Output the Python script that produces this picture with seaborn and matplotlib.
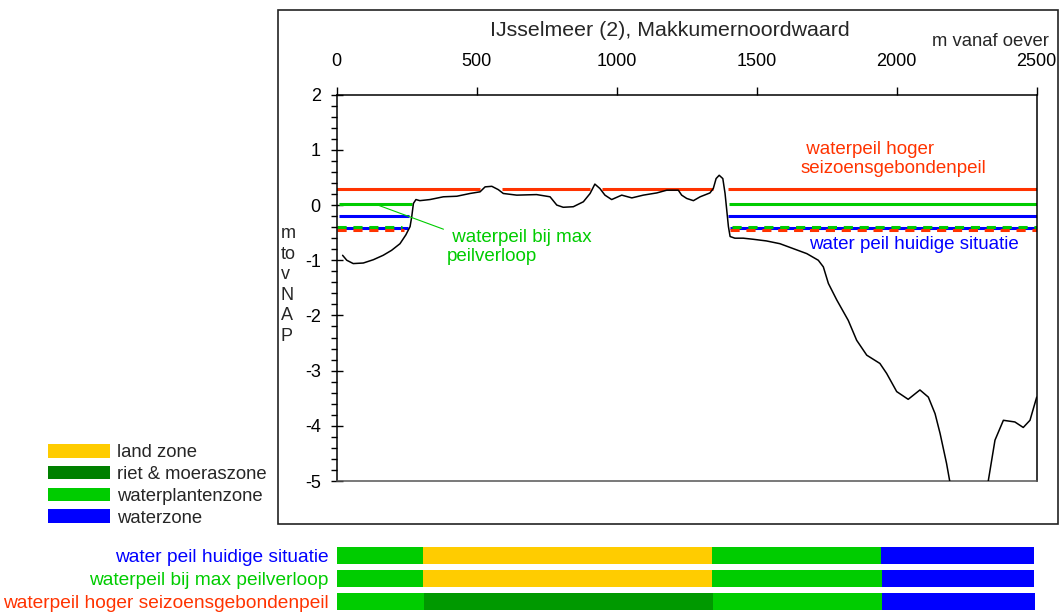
import numpy as np
import pandas as pd
import seaborn as sns
import matplotlib.pyplot as plt
from matplotlib.patches import Patch, Rectangle
from matplotlib.ticker import MultipleLocator

# Bodemprofiel (m vanaf oever, m t.o.v. NAP)
profile_x = [21, 36, 59, 95, 131, 166, 196, 226, 247, 262, 268, 274, 283, 297, 333, 381,
             429, 476, 512, 530, 554, 577, 595, 643, 714, 762, 786, 809, 845, 881, 905,
             922, 940, 958, 982, 1018, 1054, 1095, 1143, 1179, 1220, 1232, 1250, 1274,
             1298, 1333, 1345, 1355, 1366, 1379, 1387, 1393, 1399, 1405, 1422, 1452,
             1488, 1535, 1583, 1631, 1679, 1720, 1738, 1756, 1786, 1827, 1857, 1881,
             1893, 1940, 1964, 2000, 2041, 2083, 2113, 2137, 2155, 2178, 2190, 2260,
             2327, 2351, 2381, 2422, 2452, 2476, 2500]
profile_y = [-0.91, -1.0, -1.06, -1.05, -0.99, -0.91, -0.82, -0.70, -0.54, -0.39, -0.21,
             0.03, 0.10, 0.08, 0.10, 0.15, 0.16, 0.21, 0.24, 0.33, 0.34, 0.28, 0.21, 0.18,
             0.19, 0.15, 0.0, -0.04, -0.03, 0.06, 0.21, 0.38, 0.30, 0.18, 0.10, 0.18, 0.13,
             0.18, 0.22, 0.27, 0.27, 0.18, 0.12, 0.08, 0.15, 0.22, 0.30, 0.48, 0.54, 0.48,
             0.21, -0.09, -0.39, -0.57, -0.60, -0.60, -0.62, -0.65, -0.70, -0.79, -0.88,
             -1.0, -1.12, -1.42, -1.72, -2.09, -2.45, -2.63, -2.72, -2.87, -3.05, -3.38,
             -3.52, -3.35, -3.48, -3.78, -4.14, -4.68, -5.02, -5.6, -5.0, -4.26, -3.90,
             -3.93, -4.03, -3.90, -3.48]

# Waterpeilen en hun bereik langs het profiel
red_high = 0.29
red_high_segments = [(-5, 512), (589, 903), (947, 1345), (1399, 2500)]
green_high = 0.02
green_high_segments = [(9, 268), (1402, 2500)]
blue_high = -0.2
blue_high_segments = [(9, 258), (1399, 2500)]
blue_low = -0.41
blue_low_segments = [(9, 253), (1405, 2500)]
green_low = -0.40
green_low_segments = [(0, 232), (1411, 2500)]
red_low = -0.45
red_low_segments = [(0, 240), (1405, 2500)]

# Zonering per scenario
scenario_labels = ["water peil huidige situatie", "waterpeil bij max peilverloop",
                   "waterpeil hoger seizoensgebondenpeil"]
zone_edges_1 = [-8, 307, 1340, 1944, 2492]
zone_edges_2 = [-8, 307, 1342, 1946, 2492]
zone_edges_3 = [-5, 312, 1345, 1948, 2495]
zones_1 = ["waterplantenzone", "land zone", "waterplantenzone", "waterzone"]
zones_2 = ["waterplantenzone", "land zone", "waterplantenzone", "waterzone"]
zones_3 = ["waterplantenzone", "riet & moeraszone", "waterplantenzone", "waterzone"]

legend_labels = ["land zone", "riet & moeraszone", "waterplantenzone", "waterzone"]

RED = "#FF3300"
GREEN = "#00CC00"
BLUE = "#0000FF"
zone_colors = {"land zone": "#FFCC00", "riet & moeraszone": "#009900",
               "waterplantenzone": GREEN, "waterzone": BLUE}
legend_colors = ["#FFCC00", "#008000", GREEN, BLUE]
scenario_colors = [BLUE, GREEN, RED]

sns.set_style("ticks")
plt.rcParams["font.family"] = ["Liberation Sans", "DejaVu Sans"]
plt.rcParams["axes.unicode_minus"] = False

W, H = 1061, 612
fig = plt.figure(figsize=(W / 100, H / 100), dpi=100)

ax = fig.add_axes([336.7 / W, 1 - 481 / H, 700 / W, (481 - 94.7) / H])

# waterpeil-lijnen
def draw_level(level, segments, color, dashed=False):
    for x0, x1 in segments:
        ax.plot([x0, x1], [level, level], color=color, lw=2.2,
                ls=(0, (3, 2.2)) if dashed else "-", zorder=1.5,
                solid_capstyle="butt", dash_capstyle="butt")

draw_level(red_high, red_high_segments, RED)
draw_level(green_high, green_high_segments, GREEN)
draw_level(blue_high, blue_high_segments, BLUE)
draw_level(blue_low, blue_low_segments, BLUE)
draw_level(red_low, red_low_segments, RED, dashed=True)
draw_level(green_low, green_low_segments, GREEN, dashed=True)

prof = pd.DataFrame({"x": profile_x, "y": profile_y})
sns.lineplot(data=prof, x="x", y="y", ax=ax, color="black", lw=1.1,
             estimator=None, sort=False, zorder=3)

ax.set_xlim(0, 2500)
ax.set_ylim(-5, 2)
ax.set_xlabel("")
ax.set_ylabel("")
ax.xaxis.tick_top()
ax.set_xticks(range(0, 2501, 500))
ax.set_yticks(range(-5, 3))
ax.yaxis.set_minor_locator(MultipleLocator(0.2))
ax.tick_params(axis="x", which="both", direction="out", length=6, width=1,
               pad=12, labelsize=13, top=True, bottom=False, colors="black")
ax.tick_params(axis="y", which="major", direction="inout", length=9, width=1,
               pad=7, labelsize=13, left=True, colors="black")
ax.tick_params(axis="y", which="minor", direction="out", length=4.5, width=1,
               left=True, colors="black")
for side in ["top", "left", "right"]:
    ax.spines[side].set_color("black")
    ax.spines[side].set_linewidth(1.1)
ax.spines["bottom"].set_color("#555555")
ax.spines["bottom"].set_linewidth(1.1)

ax.annotate(" waterpeil bij max\npeilverloop", xy=(147, 0.0), xytext=(393, -0.44),
            va="top", ha="left", fontsize=13.5, color=GREEN, linespacing=1.1,
            arrowprops=dict(arrowstyle="-", color=GREEN, lw=0.8,
                            shrinkA=0, shrinkB=0, relpos=(0, 0.97)))
ax.text(1657, 1.16, " waterpeil hoger\nseizoensgebondenpeil", va="top", ha="left",
        fontsize=13.5, color=RED, linespacing=1.15)
ax.text(1688, -0.72, "water peil huidige situatie", va="center", ha="left",
        fontsize=13.5, color=BLUE)

fig.text(670 / W, 1 - 30 / H, "IJsselmeer (2), Makkumernoordwaard", ha="center",
         va="center", fontsize=15.4)
fig.text(1049 / W, 1 - 42 / H, "m vanaf oever", ha="right", va="center", fontsize=13.3)
fig.text(281 / W, 1 - 285 / H, "m\nto\nv\nN\nA\nP", ha="left", va="center",
         fontsize=13, linespacing=1.28)

# zonebalken per scenario
bx = fig.add_axes([336.7 / W, 1 - 613 / H, 700 / W, 69 / H])
rows = [(zone_edges_1, zones_1), (zone_edges_2, zones_2), (zone_edges_3, zones_3)]
for i, (edges, zones) in enumerate(rows):
    starts = np.array(edges[:-1])
    widths = np.diff(edges)
    bx.barh([i] * len(zones), widths, left=starts, height=0.74,
            color=[zone_colors[z] for z in zones], edgecolor="none")
bx.set_xlim(0, 2500)
bx.set_ylim(2.5, -0.5)
bx.set_yticks(range(3))
bx.set_yticklabels(scenario_labels, fontsize=13.8)
for lbl, c in zip(bx.get_yticklabels(), scenario_colors):
    lbl.set_color(c)
bx.tick_params(axis="y", length=0, pad=6)
bx.set_xticks([])
for s in bx.spines.values():
    s.set_visible(False)
bx.patch.set_alpha(0)

handles = [Patch(facecolor=c, edgecolor="none") for c in legend_colors]
fig.legend(handles, legend_labels, loc="upper left", bbox_to_anchor=(48 / W, 1 - 444 / H),
           frameon=False, fontsize=13.3, handlelength=3.35, handleheight=0.75,
           labelspacing=0.25, handletextpad=0.4, borderpad=0, borderaxespad=0)

fig.add_artist(Rectangle((278 / W, 1 - 524 / H), 780 / W, 514 / H,
                         transform=fig.transFigure, fill=False,
                         edgecolor="#222222", lw=1.2))

fig.savefig("out.png", dpi=100)
